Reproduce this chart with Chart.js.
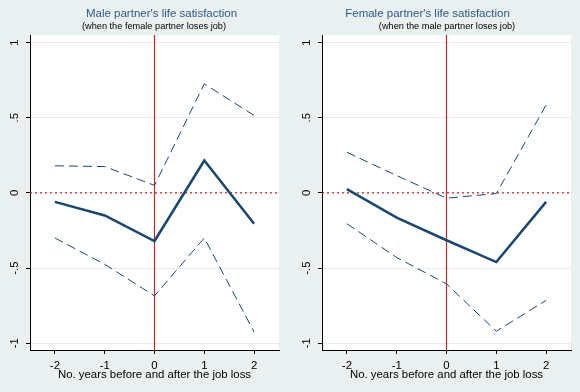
<!DOCTYPE html>
<html>
<head>
<meta charset="utf-8">
<script src="https://cdn.jsdelivr.net/npm/chart.js"></script>
<style>
  body { margin: 0; background: #EAF0F0; }
  .wrap { position: relative; width: 580px; height: 392px; overflow: hidden; }
  .panel { position: absolute; top: 0; width: 290px; height: 392px; }
</style>
</head>
<body>
<div class="wrap">
  <div class="panel" style="left:0"><canvas id="maleChart" width="290" height="392"></canvas></div>
  <div class="panel" style="left:290px"><canvas id="femaleChart" width="290" height="392"></canvas></div>
</div>
<script>
// years relative to job loss
const years = [-2, -1, 0, 1, 2];

// male partner (female partner loses job)
const maleEst = [-0.06, -0.15, -0.32, 0.215, -0.205];
const maleUpper = [0.18, 0.175, 0.05, 0.725, 0.515];
const maleLower = [-0.30, -0.475, -0.685, -0.30, -0.925];

// female partner (male partner loses job)
const femaleEst = [0.025, -0.165, -0.315, -0.46, -0.06];
const femaleUpper = [0.27, 0.115, -0.035, -0.005, 0.585];
const femaleLower = [-0.205, -0.43, -0.605, -0.92, -0.715];

const xTicks = [-2, -1, 0, 1, 2];
const yTicks = [-1, -0.5, 0, 0.5, 1];
const yTickLabels = ['-1', '-.5', '0', '.5', '1'];

const NAVY = '#1A476F';
const RED = '#C0282D';
const FONT = '"Liberation Sans", Arial, sans-serif';

const decor = {
  id: 'decor',
  beforeDraw(chart) {
    const { ctx, chartArea: a } = chart;
    ctx.save();
    ctx.fillStyle = '#FFFFFF';
    ctx.fillRect(a.left, a.top, a.right - a.left, a.bottom - a.top);
    ctx.restore();
  },
  beforeDatasetsDraw(chart) {
    const { ctx, chartArea: a, scales } = chart;
    const x0 = scales.x.getPixelForValue(0);
    const y0 = scales.y.getPixelForValue(0);
    ctx.save();
    ctx.strokeStyle = RED;
    ctx.lineWidth = 1.2;
    ctx.setLineDash([2, 3]);
    ctx.beginPath();
    ctx.moveTo(a.left, y0);
    ctx.lineTo(a.right, y0);
    ctx.stroke();
    ctx.setLineDash([]);
    ctx.beginPath();
    ctx.moveTo(x0, a.top);
    ctx.lineTo(x0, a.bottom);
    ctx.stroke();
    ctx.restore();
  },
  afterDraw(chart, args, opts) {
    const ctx = chart.ctx;
    ctx.save();
    ctx.textAlign = 'center';
    ctx.textBaseline = 'middle';
    ctx.fillStyle = '#2B5B88';
    ctx.font = '11.5px ' + FONT;
    ctx.fillText(opts.title, opts.titleX, 13.5);
    ctx.fillStyle = '#000000';
    ctx.font = '9.2px ' + FONT;
    ctx.fillText(opts.subtitle, opts.subX, 26.5);
    ctx.restore();
  }
};

function series(vals) {
  return years.map((x, i) => ({ x, y: vals[i] }));
}

function makeChart(id, est, upper, lower, cfg) {
  const dashed = { borderColor: NAVY, borderWidth: 1, borderDash: [9, 5], pointRadius: 0, tension: 0, fill: false };
  new Chart(document.getElementById(id), {
    type: 'line',
    data: {
      datasets: [
        Object.assign({ data: series(upper) }, dashed),
        { data: series(est), borderColor: NAVY, borderWidth: 2.5, pointRadius: 0, tension: 0, fill: false },
        Object.assign({ data: series(lower) }, dashed)
      ]
    },
    options: {
      responsive: false,
      animation: false,
      devicePixelRatio: 1,
      layout: { padding: { top: 35, right: cfg.padRight, bottom: 0, left: 0 } },
      plugins: {
        legend: { display: false },
        tooltip: { enabled: false },
        decor: cfg
      },
      scales: {
        x: {
          type: 'linear',
          min: -2.5,
          max: 2.5,
          afterBuildTicks: s => { s.ticks = xTicks.map(v => ({ value: v })); },
          afterFit: s => { s.height = 42; },
          ticks: { color: '#000', font: { family: FONT, size: 11.4 }, padding: 5 },
          grid: { drawOnChartArea: false, tickLength: 4, tickColor: '#000' },
          border: { color: '#000', width: 1 },
          title: {
            display: true,
            text: 'No. years before and after the job loss',
            color: '#000',
            font: { family: FONT, size: 11.4 },
            padding: { top: 0, bottom: 10 }
          }
        },
        y: {
          type: 'linear',
          min: -1.045,
          max: 1.05,
          afterBuildTicks: s => { s.ticks = yTicks.map(v => ({ value: v })); },
          afterFit: s => { s.width = cfg.axisWidth; },
          ticks: {
            color: '#000',
            font: { family: FONT, size: 11.4 },
            minRotation: 90,
            maxRotation: 90,
            crossAlign: 'center',
            padding: 4,
            callback: v => yTickLabels[yTicks.indexOf(v)]
          },
          grid: { color: '#E6ECEC', lineWidth: 1, tickLength: 4, tickColor: '#000' },
          border: { color: '#000', width: 1 }
        }
      }
    },
    plugins: [decor]
  });
}

makeChart('maleChart', maleEst, maleUpper, maleLower, {
  title: "Male partner's life satisfaction",
  subtitle: '(when the female partner loses job)',
  titleX: 161.5, subX: 154, padRight: 11, axisWidth: 30
});

makeChart('femaleChart', femaleEst, femaleUpper, femaleLower, {
  title: "Female partner's life satisfaction",
  subtitle: '(when the male partner loses job)',
  titleX: 137.5, subX: 157, padRight: 9, axisWidth: 32
});
</script>
</body>
</html>
